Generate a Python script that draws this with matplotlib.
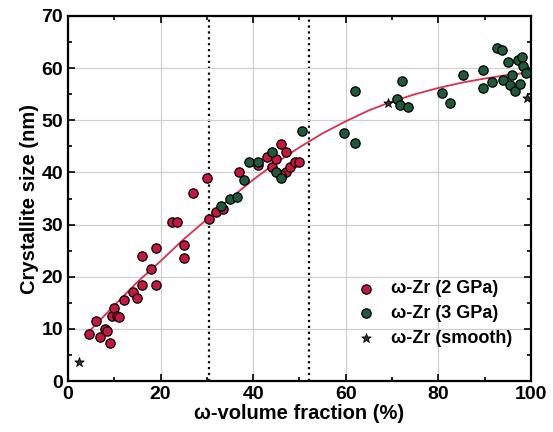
import matplotlib.pyplot as plt
from matplotlib.ticker import MultipleLocator

plt.rcParams['font.family'] = ['Liberation Sans', 'DejaVu Sans']
plt.rcParams['font.weight'] = 'bold'

# omega-Zr, 2 GPa
x_2gpa = [4.5, 6, 7, 8, 8.5, 9, 9.5, 10, 10.5, 11, 12, 14, 15, 16, 16, 18, 19, 19,
          22.5, 23.5, 25, 25, 27, 30, 30.5, 32, 33.5, 37, 41, 43, 44, 45, 46, 47,
          47, 48, 49, 50, 46]
y_2gpa = [9, 11.5, 8.5, 10, 9.5, 7.3, 12.5, 14, 12.5, 12.3, 15.5, 17, 16, 18.5, 24,
          21.5, 18.5, 25.5, 30.5, 30.5, 26, 23.5, 36, 39, 31, 32.5, 33, 40, 41.5, 43,
          41, 42.5, 45.5, 44, 40, 41, 42, 42, 39.5]

# omega-Zr, 3 GPa
x_3gpa = [33, 35, 36.5, 38, 39, 41, 44, 45, 46, 50.5, 59.6, 62, 62, 71, 71.7, 72.1,
          73.5, 80.7, 82.5, 85.4, 89.6, 89.6, 91.6, 92.6, 93.7, 94, 95, 95.5, 95.9,
          96.5, 97.2, 97.6, 98, 98.3, 99]
y_3gpa = [33.5, 35, 35.3, 38.5, 42, 42, 44, 40, 39, 48, 47.5, 55.7, 45.6, 54, 52.9,
          57.5, 52.5, 55.3, 53.4, 58.6, 59.6, 56.1, 57.3, 63.8, 63.4, 57.7, 61.1, 56.7,
          58.6, 55.7, 61.5, 57, 62.1, 60.5, 59]

# omega-Zr, smooth
x_smooth = [2.4, 69.1, 99.1]
y_smooth = [3.6, 53.4, 54.2]

# fitted trend
x_fit = [4, 10, 15, 20, 25, 30, 35, 40, 45, 50, 55, 60, 65, 70, 75, 80, 85, 90, 95, 100]
y_fit = [9, 14.5, 19, 23, 27.2, 31, 35, 38.6, 41.9, 44.8, 47.5, 49.8, 51.9, 53.6,
         55.0, 56.2, 57.2, 58.0, 58.7, 59.2]

boundaries = [30.5, 52]

fig = plt.figure(figsize=(5.53, 4.32), dpi=100)
ax = fig.add_axes([0.123, 0.118, 0.837, 0.845])

ax.grid(True, color='#d0d0d0', linewidth=0.9, zorder=0)
for b in boundaries:
    ax.axvline(b, color='black', linestyle=':', linewidth=1.6, zorder=1)

ax.plot(x_fit, y_fit, color='#d8304f', linewidth=1.3, zorder=2)
ax.scatter(x_2gpa, y_2gpa, s=45, color='#c8173f', edgecolors='black',
           linewidths=0.9, zorder=3, label='ω-Zr (2 GPa)')
ax.scatter(x_3gpa, y_3gpa, s=45, color='#1f5b3a', edgecolors='black',
           linewidths=0.9, zorder=3, label='ω-Zr (3 GPa)')
ax.scatter(x_smooth, y_smooth, s=50, marker='*', color='#333333',
           edgecolors='black', linewidths=0.6, zorder=4, label='ω-Zr (smooth)')

ax.set_xlim(0, 100)
ax.set_ylim(0, 70)
ax.xaxis.set_major_locator(MultipleLocator(20))
ax.xaxis.set_minor_locator(MultipleLocator(10))
ax.yaxis.set_major_locator(MultipleLocator(10))
ax.yaxis.set_minor_locator(MultipleLocator(5))
ax.tick_params(which='both', direction='in', top=True, right=True,
               labelsize=14, width=1.2)
ax.tick_params(which='major', length=5)
ax.tick_params(which='minor', length=3)
for s in ax.spines.values():
    s.set_linewidth(1.6)

ax.set_xlabel('ω-volume fraction (%)', fontsize=14.5, fontweight='bold', labelpad=1)
ax.set_ylabel('Crystallite size (nm)', fontsize=14.5, fontweight='bold', labelpad=2)

ax.legend(loc='lower right', bbox_to_anchor=(0.995, 0.05), frameon=False,
          fontsize=13, handletextpad=0.4, labelspacing=0.42)

fig.savefig('out.png', dpi=100)
